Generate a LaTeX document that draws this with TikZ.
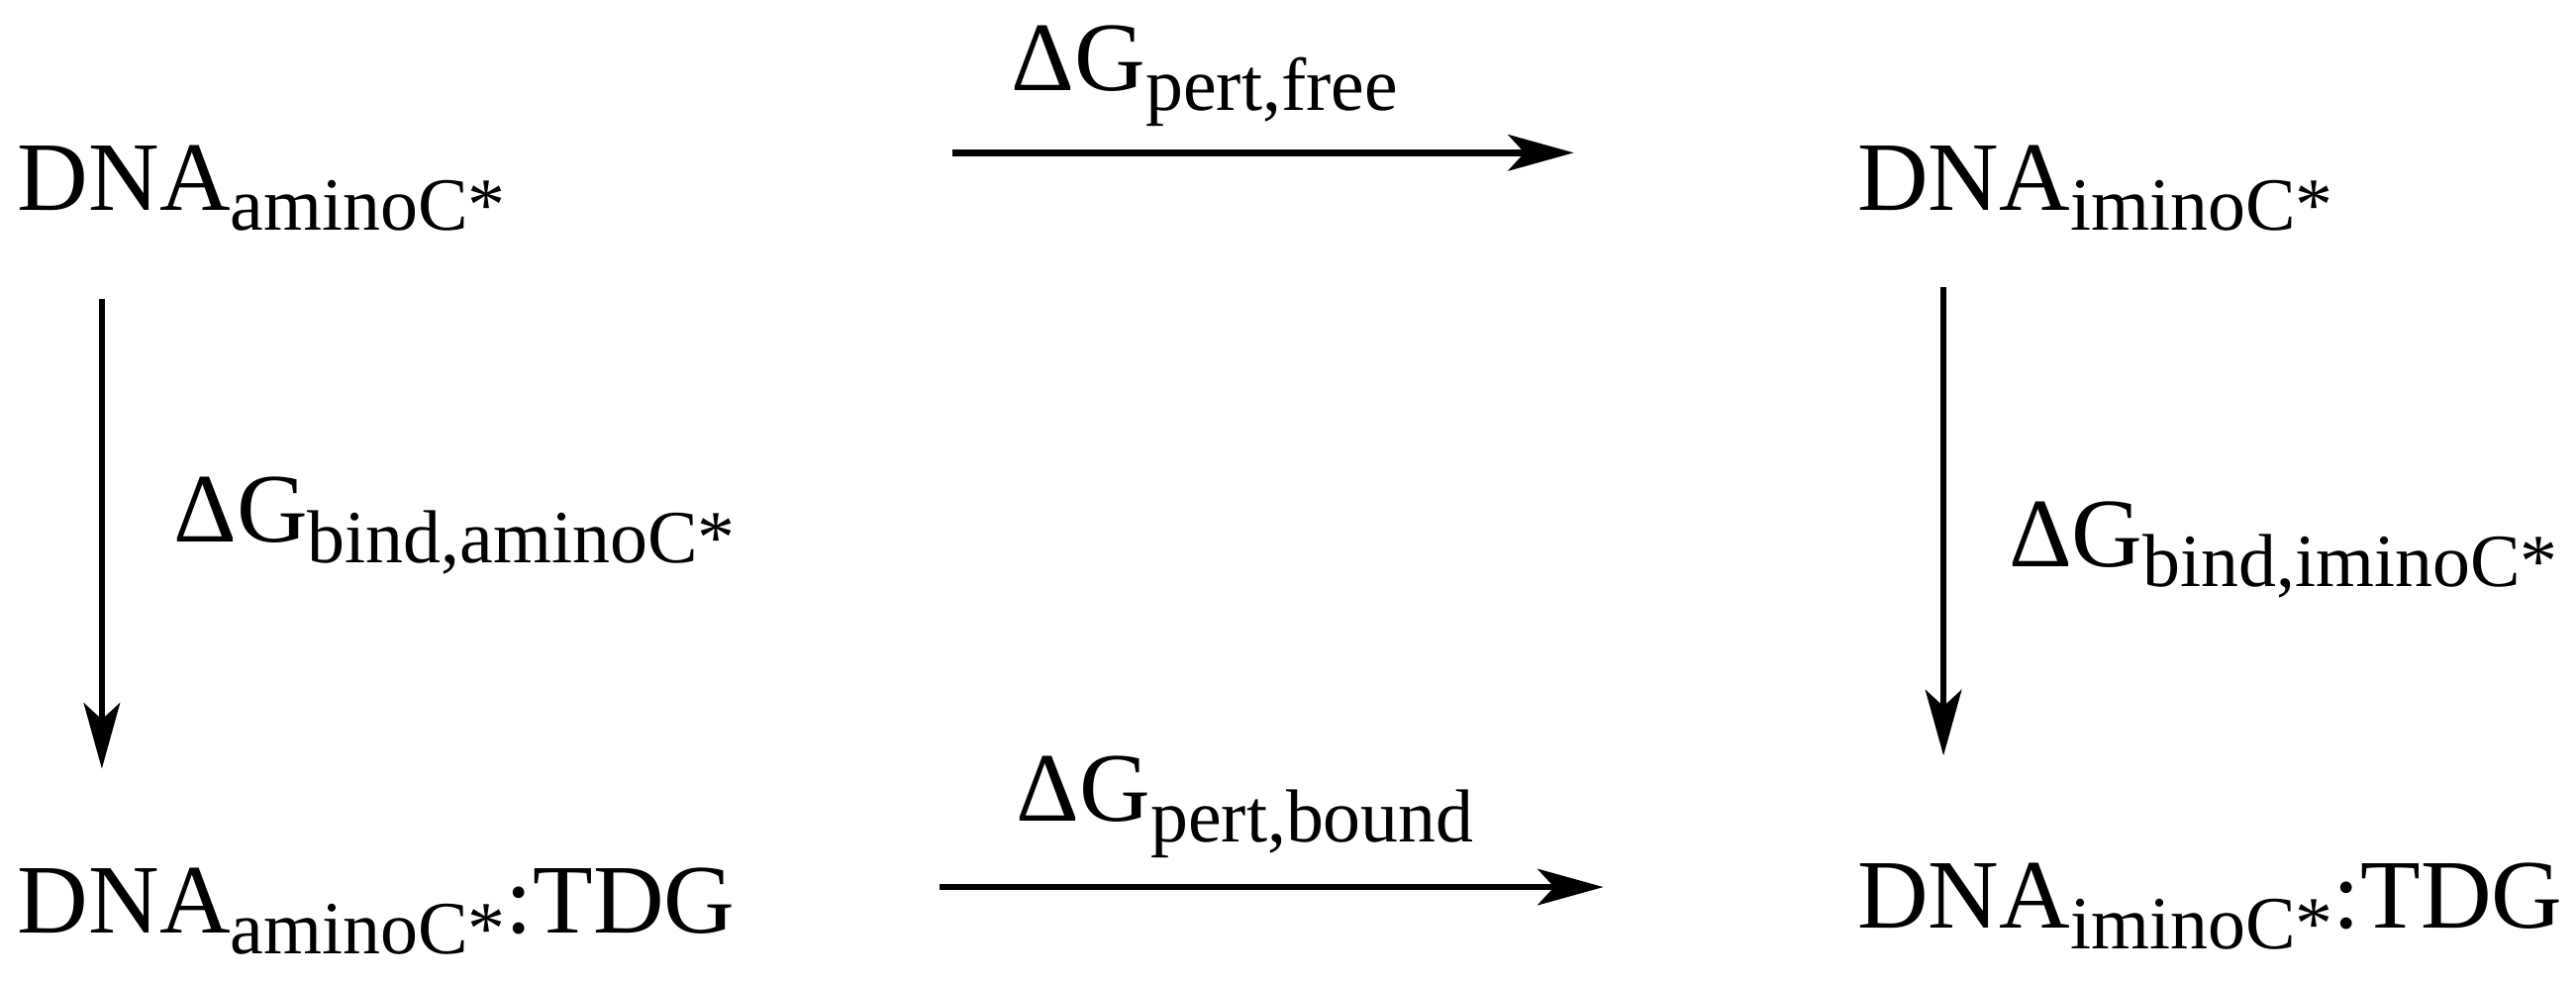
\documentclass[tikz,border=0pt]{standalone}
\usepackage{fontspec}
\setmainfont{Liberation Serif}
\usetikzlibrary{arrows.meta}
\newcommand{\sbs}[1]{\raisebox{-0.45ex}{\fontsize{13}{14}\selectfont #1}}
\begin{document}
\begin{tikzpicture}[x=0.01cm,y=-0.01cm,
  lbl/.style={anchor=base west,inner sep=0pt,font=\fontsize{17}{20}\selectfont},
  arr/.style={line width=1.1pt,-{Stealth[length=0.4cm,width=0.22cm,inset=0.1cm]}}]
\useasboundingbox (0,0) rectangle (1568,598);
\node[lbl] (a) at (10,128) {DNA\sbs{aminoC*}};
\node[lbl] (b) at (1130,128) {DNA\sbs{iminoC*}};
\node[lbl] (c) at (10,568) {DNA\sbs{aminoC*}:TDG};
\node[lbl] (d) at (1130,565) {DNA\sbs{iminoC*}:TDG};
\coordinate (t1) at (580,93); \coordinate (t2) at (958,93);
\coordinate (b1) at (572,540); \coordinate (b2) at (976,540);
\coordinate (l1) at (62,182); \coordinate (l2) at (62,468);
\coordinate (r1) at (1183,175); \coordinate (r2) at (1183,460);
\draw[arr] (t1) -- (t2);
\draw[arr] (b1) -- (b2);
\draw[arr] (l1) -- (l2);
\draw[arr] (r1) -- (r2);
\node[lbl] (lt) at (615,55) {ΔG\sbs{pert,free}};
\node[lbl] (lb) at (618,500) {ΔG\sbs{pert,bound}};
\node[lbl] (ll) at (105,330) {ΔG\sbs{bind,aminoC*}};
\node[lbl] (lr) at (1222,345) {ΔG\sbs{bind,iminoC*}};
\end{tikzpicture}
\end{document}
